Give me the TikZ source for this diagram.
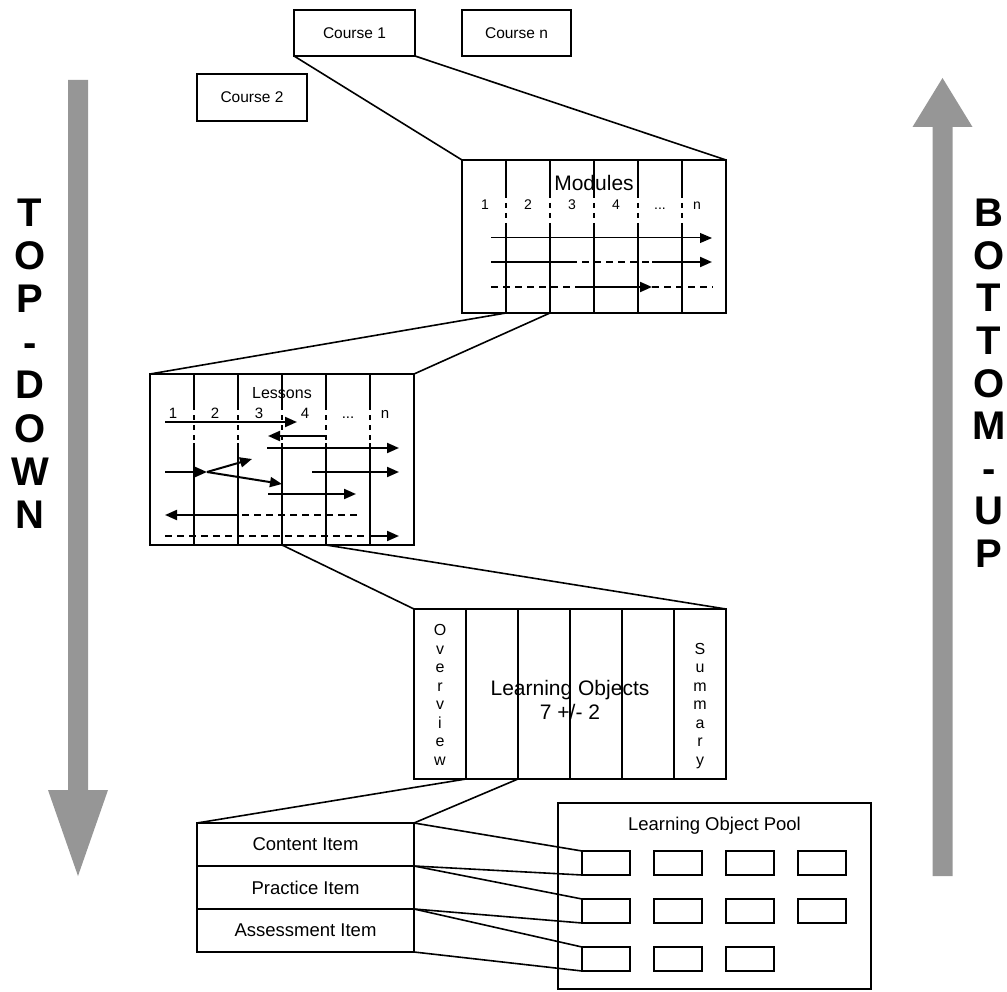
\documentclass[tikz,border=0pt]{standalone}
\usepackage{fontspec}
\setmainfont{Liberation Sans}
\usetikzlibrary{arrows.meta,calc}
\definecolor{arrowgray}{RGB}{150,150,150}
\tikzset{
  box/.style={draw, line width=1.6pt, inner sep=0pt, outer sep=0pt, anchor=center},
  zoomline/.style={line width=1.6pt},
  divider/.style={line width=1.6pt},
  divdash/.style={line width=1.6pt, dash pattern=on 5pt off 5pt},
  flow/.style={line width=2pt, -{Triangle[length=12pt,width=10pt]}},
  flowthin/.style={line width=1pt, -{Triangle[length=12pt,width=10pt]}},
  dashseg/.style={line width=2pt, dash pattern=on 7pt off 5pt},
  txt/.style={inner sep=0pt, outer sep=0pt},
  fcourse/.style={font=\fontsize{15.5pt}{18pt}\selectfont},
  fitem/.style={font=\fontsize{18.5pt}{22pt}\selectfont},
  fnum/.style={font=\fontsize{14pt}{16pt}\selectfont, anchor=base},
  flnum/.style={font=\fontsize{15pt}{17pt}\selectfont, anchor=base},
  fvert/.style={font=\fontsize{16pt}{18pt}\selectfont},
  fbig/.style={font=\fontsize{40pt}{43pt}\selectfont\bfseries},
}
\begin{document}
\begin{tikzpicture}[x=1pt,y=-1pt]
\useasboundingbox (0,0) rectangle (1007,992);

% ---- gray direction arrows ----
\fill[arrowgray] (68,80) -- (88,80) -- (88,790) -- (108,790) -- (78,876) -- (48,790) -- (68,790) -- cycle;
\fill[arrowgray] (932.5,876) -- (952.5,876) -- (952.5,127) -- (972.5,127) -- (942.5,78) -- (912.5,127) -- (932.5,127) -- cycle;
\foreach \ch [count=\i from 0] in {T,O,P,-,D,O,W,N}
  \node[txt, fbig, anchor=base] (td\i) at (30,227+43*\i) {\ch};
\foreach \ch [count=\i from 0] in {B,O,T,T,O,M,-,U,P}
  \node[txt, fbig, anchor=base] (bu\i) at (989,227+42.5*\i) {\ch};

% ---- courses ----
\node[box, fcourse, minimum width=121pt, minimum height=46pt] (c1) at (354.5,33) {Course 1};
\node[box, fcourse, minimum width=109pt, minimum height=46pt] (cn) at (516.5,33) {Course n};
\node[box, fcourse, minimum width=110pt, minimum height=47pt] (c2) at (252,97.5) {Course 2};

% ---- modules ----
\node[box, minimum width=264pt, minimum height=153pt] (mod) at (594,236.5) {};
\foreach \k in {1,...,5} {
  \draw[divider] (462+44*\k,160) -- (462+44*\k,193);
  \draw[divdash] (462+44*\k,193) -- (462+44*\k,228);
  \draw[divider] (462+44*\k,228) -- (462+44*\k,313);
}
\node[txt, font=\fontsize{21pt}{24pt}\selectfont] (modt) at (594,183) {Modules};
\node[txt, fnum] (m1) at (485,210) {1};
\node[txt, fnum] (m2) at (528,210) {2};
\node[txt, fnum] (m3) at (572,210) {3};
\node[txt, fnum] (m4) at (616,210) {4};
\node[txt, fnum] (m5) at (660,210) {...};
\node[txt, fnum] (m6) at (697,210) {n};
\draw[flowthin] (491,238) -- (712,238);
\draw[line width=2pt] (491,262) -- (570,262);
\draw[dashseg] (570,262) -- (652,262);
\draw[flow] (652,262) -- (712,262);
\draw[dashseg] (491,287) -- (576,287);
\draw[flow] (576,287) -- (652,287);
\draw[dashseg] (652,287) -- (713,287);

\draw[zoomline] (c1.south west) -- (mod.north west);
\draw[zoomline] (c1.south east) -- (mod.north east);

% ---- lessons ----
\node[box, minimum width=264pt, minimum height=171pt] (les) at (282,459.5) {};
\foreach \k in {1,...,5} {
  \draw[divider] (150+44*\k,374) -- (150+44*\k,405);
  \draw[divdash] (150+44*\k,405) -- (150+44*\k,443);
  \draw[divider] (150+44*\k,443) -- (150+44*\k,545);
}
\node[txt, font=\fontsize{16pt}{18pt}\selectfont] (lest) at (282,393) {Lessons};
\node[txt, flnum] (l1) at (173,418) {1};
\node[txt, flnum] (l2) at (215,418) {2};
\node[txt, flnum] (l3) at (259,418) {3};
\node[txt, flnum] (l4) at (305,418) {4};
\node[txt, flnum] (l5) at (348,418) {...};
\node[txt, flnum] (l6) at (385,418) {n};
\draw[flow] (165,422) -- (297,422);
\draw[flow] (326,436) -- (268,436);
\draw[flow] (267,448) -- (399,448);
\draw[flow] (165,472) -- (207,472);
\draw[flow] (207,472) -- (252,459);
\draw[flow] (207,472) -- (282,484);
\draw[flow] (312,472) -- (399,472);
\draw[flow] (268,494) -- (356,494);
\draw[dashseg] (357,515) -- (230,515);
\draw[flow] (230,515) -- (165,515);
\draw[dashseg] (165,536) -- (370,536);
\draw[flow] (370,536) -- (399,536);

\draw[zoomline] ($(mod.south west)+(44,0)$) -- (les.north west);
\draw[zoomline] ($(mod.south west)+(88,0)$) -- (les.north east);

% ---- learning objects ----
\node[box, minimum width=312pt, minimum height=170pt] (lo) at (570,694) {};
\foreach \k in {1,...,5}
  \draw[divider] (414+52*\k,609) -- (414+52*\k,779);
\foreach \ch [count=\i from 0] in {O,v,e,r,v,i,e,w}
  \node[txt, fvert, anchor=base] (ov\i) at (440,635.5+18.5*\i) {\ch};
\foreach \ch [count=\i from 0] in {S,u,m,m,a,r,y}
  \node[txt, fvert, anchor=base] (su\i) at (700,654+18.5*\i) {\ch};
\node[txt, align=center, font=\fontsize{21pt}{24pt}\selectfont] (lot) at (570,700) {Learning Objects\\7 +/- 2};

\draw[zoomline] ($(les.south west)+(132,0)$) -- (lo.north west);
\draw[zoomline] ($(les.south west)+(176,0)$) -- (lo.north east);

% ---- items ----
\node[box, fitem, minimum width=217pt, minimum height=43pt] (ci) at (305.5,844.5) {Content Item};
\node[box, fitem, minimum width=217pt, minimum height=43pt] (pi) at (305.5,887.5) {Practice Item};
\node[box, fitem, minimum width=217pt, minimum height=43pt] (ai) at (305.5,930.5) {Assessment Item};

\draw[zoomline] ($(lo.south west)+(52,0)$) -- (ci.north west);
\draw[zoomline] ($(lo.south west)+(104,0)$) -- (ci.north east);

% ---- pool ----
\node[box, minimum width=313pt, minimum height=186pt] (pool) at (714.5,896) {};
\node[txt, fitem] (poolt) at (714.5,826) {Learning Object Pool};
\foreach \r/\n in {1/4,2/4,3/3}
  \foreach \c in {1,...,\n}
    \node[box, minimum width=48pt, minimum height=24pt] (p\r\c) at (606+72*\c-72,863+48*\r-48) {};

\draw[zoomline] (ci.north east) -- (p11.north west);
\draw[zoomline] (ci.south east) -- (p11.south west);
\draw[zoomline] (pi.north east) -- (p21.north west);
\draw[zoomline] (pi.south east) -- (p21.south west);
\draw[zoomline] (ai.north east) -- (p31.north west);
\draw[zoomline] (ai.south east) -- (p31.south west);
\end{tikzpicture}
\end{document}
